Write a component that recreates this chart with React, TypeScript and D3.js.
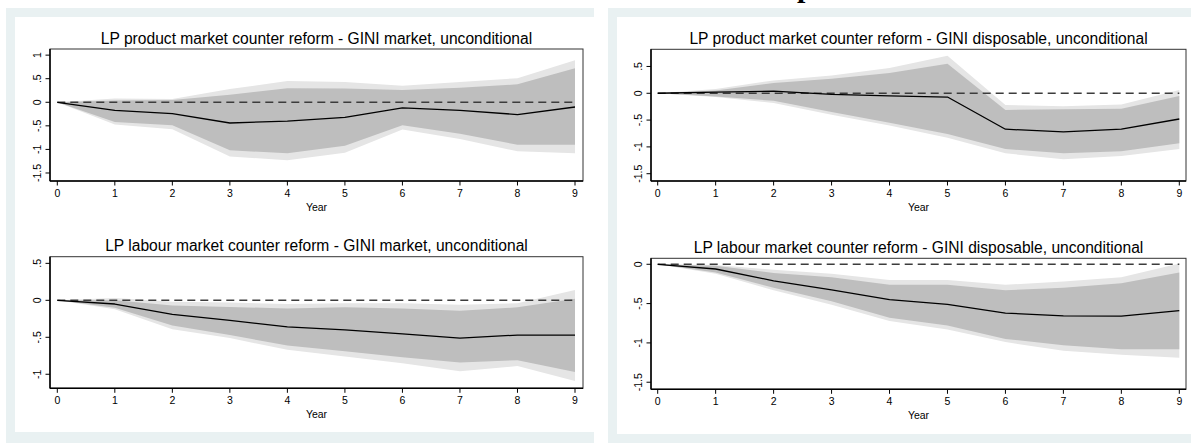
import * as d3 from "d3";

// Horizon (years after the counter reform)
const years = [0, 1, 2, 3, 4, 5, 6, 7, 8, 9];

// Product market counter reform -> GINI market
const prodMktEst = [0, -0.17, -0.24, -0.44, -0.4, -0.32, -0.12, -0.17, -0.26, -0.1];
const prodMktHi90 = [0, 0.04, 0.05, 0.16, 0.3, 0.29, 0.26, 0.31, 0.38, 0.72];
const prodMktLo90 = [0, -0.42, -0.49, -1.02, -1.08, -0.92, -0.49, -0.67, -0.9, -0.9];
const prodMktHi95 = [0, 0.08, 0.07, 0.28, 0.45, 0.43, 0.35, 0.43, 0.51, 0.89];
const prodMktLo95 = [0, -0.47, -0.57, -1.15, -1.23, -1.07, -0.58, -0.78, -1.04, -1.08];

// Product market counter reform -> GINI disposable
const prodDispEst = [0, 0.02, 0.04, -0.02, -0.05, -0.07, -0.67, -0.72, -0.67, -0.48];
const prodDispHi90 = [0, 0.05, 0.19, 0.27, 0.38, 0.55, -0.31, -0.3, -0.29, -0.05];
const prodDispLo90 = [0, -0.06, -0.14, -0.35, -0.55, -0.76, -1.04, -1.12, -1.08, -0.93];
const prodDispHi95 = [0, 0.08, 0.24, 0.33, 0.47, 0.7, -0.22, -0.24, -0.21, 0.06];
const prodDispLo95 = [0, -0.07, -0.18, -0.4, -0.6, -0.83, -1.12, -1.23, -1.17, -1.04];

// Labour market counter reform -> GINI market
const labMktEst = [0, -0.05, -0.19, -0.27, -0.36, -0.4, -0.455, -0.51, -0.47, -0.47];
const labMktHi90 = [0, 0.0, -0.07, -0.09, -0.11, -0.095, -0.11, -0.14, -0.095, 0.02];
const labMktLo90 = [0, -0.1, -0.34, -0.47, -0.61, -0.69, -0.77, -0.84, -0.81, -0.97];
const labMktHi95 = [0, 0.03, -0.02, -0.03, -0.05, -0.04, -0.04, -0.06, -0.04, 0.14];
const labMktLo95 = [0, -0.12, -0.39, -0.51, -0.67, -0.76, -0.85, -0.96, -0.89, -1.09];

// Labour market counter reform -> GINI disposable
const labDispEst = [0, -0.06, -0.21, -0.325, -0.45, -0.51, -0.62, -0.655, -0.66, -0.59];
const labDispHi90 = [0, -0.02, -0.11, -0.165, -0.26, -0.26, -0.33, -0.3, -0.24, -0.105];
const labDispLo90 = [0, -0.105, -0.3, -0.47, -0.68, -0.78, -0.95, -1.03, -1.08, -1.08];
const labDispHi95 = [0, -0.01, -0.07, -0.12, -0.2, -0.2, -0.26, -0.22, -0.165, 0.01];
const labDispLo95 = [0, -0.12, -0.33, -0.515, -0.72, -0.83, -0.99, -1.1, -1.15, -1.19];

const topLeftTicks = [1, 0.5, 0, -0.5, -1, -1.5];
const topRightTicks = [0.5, 0, -0.5, -1, -1.5];
const bottomLeftTicks = [0.5, 0, -0.5, -1];
const bottomRightTicks = [0, -0.5, -1, -1.5];

const W = 1191;
const H = 443;
const FRAME = "#e9f1f2";
const FONT = "'Liberation Sans', Arial, Helvetica, sans-serif";

interface PanelSpec {
  title: string;
  est: number[];
  hi90: number[];
  lo90: number[];
  hi95: number[];
  lo95: number[];
  ticks: number[];
  yDomain: [number, number];
  box: { left: number; right: number; top: number; bottom: number };
  xRange: [number, number];
}

const LEFT_X = { left: 50, right: 583 };
const RIGHT_X = { left: 651, right: 1186 };

const panels: PanelSpec[] = [
  {
    title: "LP product market counter reform - GINI market, unconditional",
    est: prodMktEst, hi90: prodMktHi90, lo90: prodMktLo90, hi95: prodMktHi95, lo95: prodMktLo95,
    ticks: topLeftTicks,
    yDomain: [-1.67, 1.13],
    box: { ...LEFT_X, top: 49, bottom: 181 },
    xRange: [57.3, 575],
  },
  {
    title: "LP product market counter reform - GINI disposable, unconditional",
    est: prodDispEst, hi90: prodDispHi90, lo90: prodDispLo90, hi95: prodDispHi95, lo95: prodDispLo95,
    ticks: topRightTicks,
    yDomain: [-1.636, 0.82],
    box: { ...RIGHT_X, top: 49.3, bottom: 181 },
    xRange: [657.7, 1179.3],
  },
  {
    title: "LP labour market counter reform - GINI market, unconditional",
    est: labMktEst, hi90: labMktHi90, lo90: labMktLo90, hi95: labMktHi95, lo95: labMktLo95,
    ticks: bottomLeftTicks,
    yDomain: [-1.19, 0.59],
    box: { ...LEFT_X, top: 256.7, bottom: 388.3 },
    xRange: [57.3, 575],
  },
  {
    title: "LP labour market counter reform - GINI disposable, unconditional",
    est: labDispEst, hi90: labDispHi90, lo90: labDispLo90, hi95: labDispHi95, lo95: labDispLo95,
    ticks: bottomRightTicks,
    yDomain: [-1.59, 0.076],
    box: { ...RIGHT_X, top: 258.3, bottom: 389.3 },
    xRange: [657.7, 1179.3],
  },
];

// Stata-style labels: .5, -.5, -1.5
const fmtTick = (v: number) =>
  v === 0 ? "0" : String(v).replace(/^(-?)0\./, "$1.");

function Panel({ p }: { p: PanelSpec }) {
  const x = d3.scaleLinear().domain([0, 9]).range(p.xRange);
  const y = d3.scaleLinear().domain(p.yDomain).range([p.box.bottom, p.box.top]);

  const band = (lo: number[], hi: number[]) =>
    d3
      .area<number>()
      .x((d) => x(d))
      .y0((_d, i) => y(lo[i]))
      .y1((_d, i) => y(hi[i]))(years) ?? "";

  const line = d3
    .line<number>()
    .x((d) => x(d))
    .y((_d, i) => y(p.est[i]))(years) ?? "";

  const { left, right, top, bottom } = p.box;
  const cx = (left + right) / 2;

  return (
    <g>
      <text
        x={cx}
        y={top - 5.5}
        textAnchor="middle"
        fontFamily={FONT}
        fontSize={15.6}
        fill="#000"
      >
        {p.title}
      </text>
      <rect
        x={left}
        y={top}
        width={right - left}
        height={bottom - top}
        fill="#fff"
        stroke="#333"
        strokeWidth={1}
      />
      <path d={band(p.lo95, p.hi95)} fill="#e5e5e5" />
      <path d={band(p.lo90, p.hi90)} fill="#bebebe" />
      <line
        x1={x(0)}
        x2={x(9)}
        y1={y(0)}
        y2={y(0)}
        stroke="#3c3c3c"
        strokeWidth={1.4}
        strokeDasharray="8 5"
      />
      <path d={line} fill="none" stroke="#000" strokeWidth={1.3} strokeLinejoin="round" />

      {/* axes */}
      <line x1={left} x2={left} y1={top} y2={bottom} stroke="#000" strokeWidth={1.5} />
      <line x1={left} x2={right} y1={bottom} y2={bottom} stroke="#000" strokeWidth={1.5} />

      {p.ticks.map((t) => (
        <g key={t}>
          <line x1={left - 4.5} x2={left} y1={y(t)} y2={y(t)} stroke="#000" strokeWidth={1} />
          <text
            transform={`translate(${left - 9.5},${y(t)}) rotate(-90)`}
            textAnchor="middle"
            fontFamily={FONT}
            fontSize={10.5}
            fill="#000"
          >
            {fmtTick(t)}
          </text>
        </g>
      ))}

      {years.map((yr) => (
        <g key={yr}>
          <line x1={x(yr)} x2={x(yr)} y1={bottom} y2={bottom + 4.5} stroke="#000" strokeWidth={1} />
          <text
            x={x(yr)}
            y={bottom + 15.5}
            textAnchor="middle"
            fontFamily={FONT}
            fontSize={10.5}
            fill="#000"
          >
            {yr}
          </text>
        </g>
      ))}
      <text
        x={cx}
        y={bottom + 29.5}
        textAnchor="middle"
        fontFamily={FONT}
        fontSize={10.5}
        fill="#000"
      >
        Year
      </text>
    </g>
  );
}

export default function App() {
  return (
    <svg
      width={W}
      height={H}
      viewBox={`0 0 ${W} ${H}`}
      style={{ position: "absolute", left: 0, top: 0, background: "#fff" }}
    >
      <rect x={0} y={0} width={W} height={H} fill="#fff" />
      {/* cut-off heading descender above the frames */}
      <text x={797} y={-3} fontFamily="'Liberation Serif', 'DejaVu Serif', serif" fontWeight="bold" fontSize={30}>
        p
      </text>

      {/* light frames */}
      <rect x={6} y={8} width={588} height={H - 8} fill={FRAME} />
      <rect x={15} y={17} width={579} height={415} fill="#fff" />
      <rect x={608} y={8} width={W - 608} height={H - 8} fill={FRAME} />
      <rect x={617} y={17} width={W - 617} height={417} fill="#fff" />

      {panels.map((p) => (
        <Panel key={p.title} p={p} />
      ))}
    </svg>
  );
}
